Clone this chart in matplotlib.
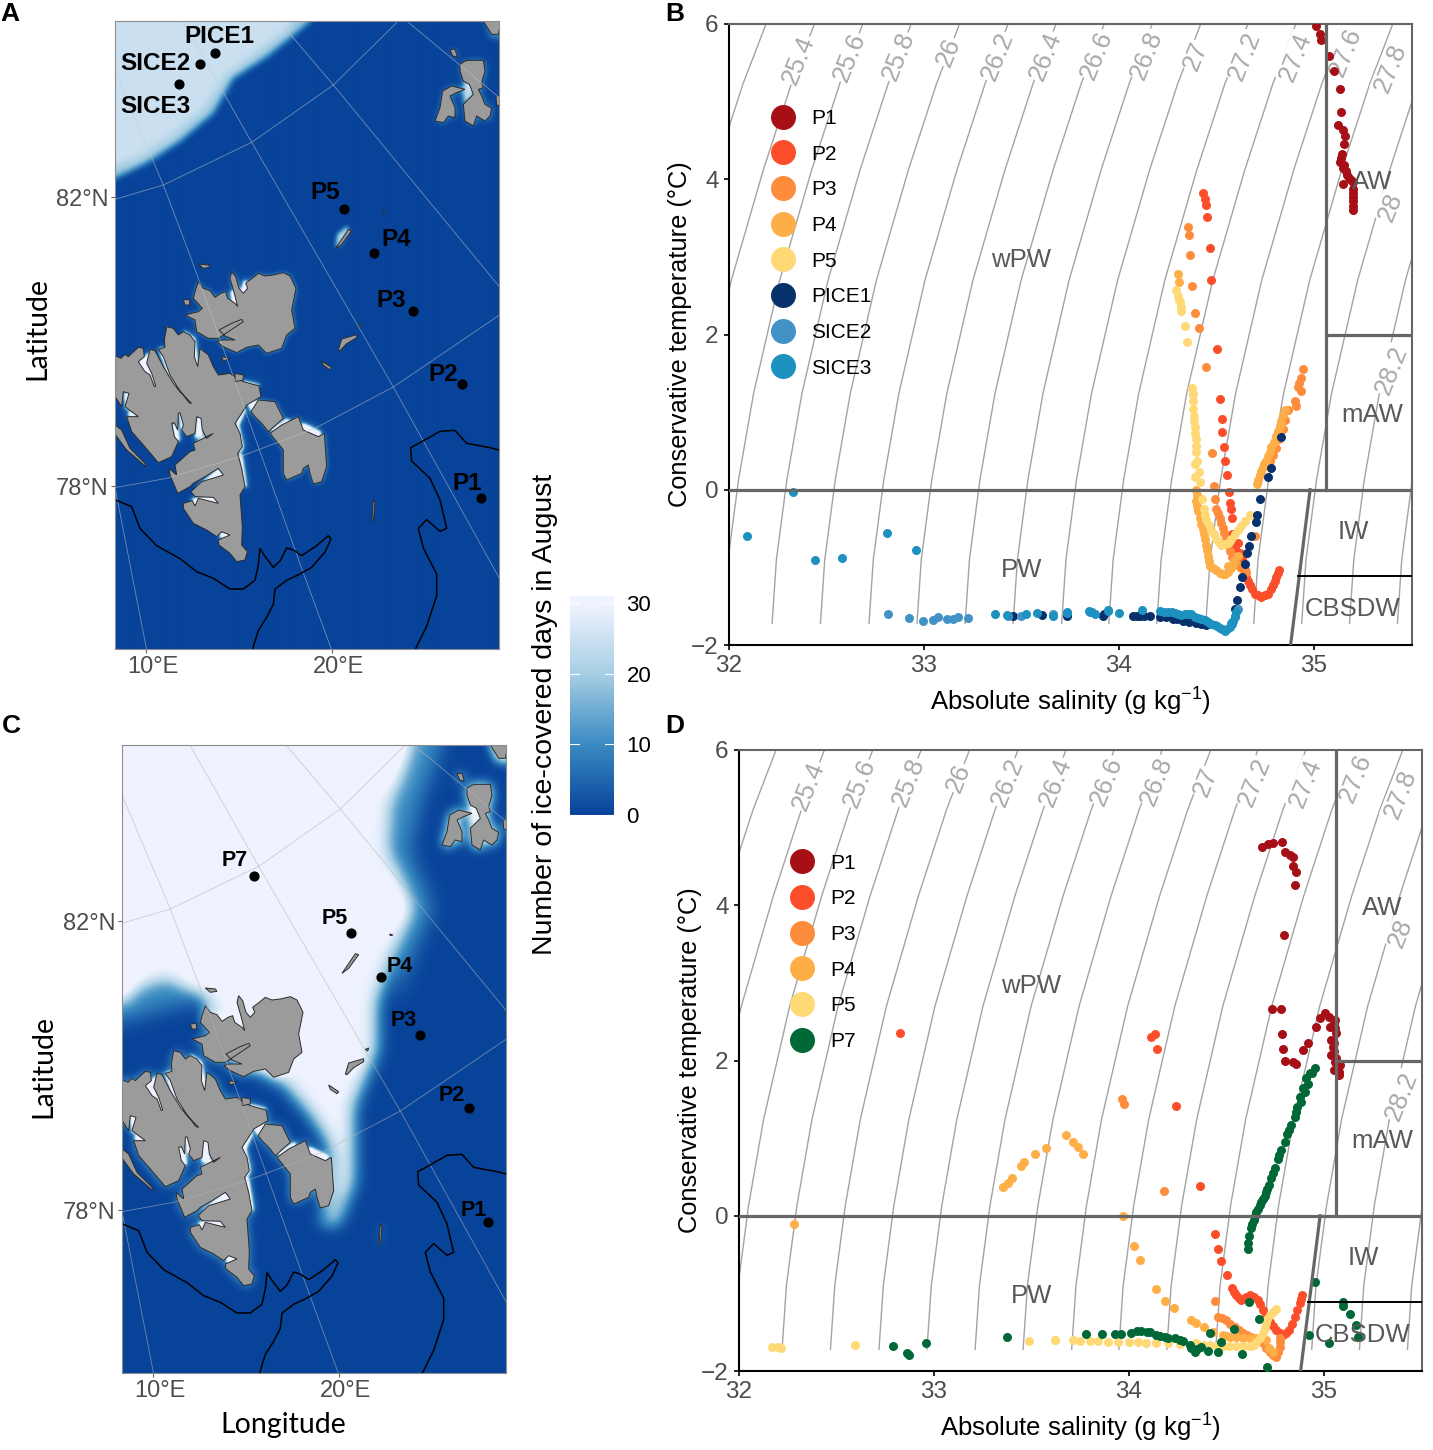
import numpy as np
from matplotlib import pyplot as plt
from matplotlib.colors import LinearSegmentedColormap, Normalize
from matplotlib.cm import ScalarMappable
from matplotlib.lines import Line2D
from matplotlib.path import Path
from matplotlib.transforms import ScaledTranslation

plt.rcParams['font.family'] = ['Liberation Sans', 'DejaVu Sans']
plt.rcParams['mathtext.fontset'] = 'custom'
plt.rcParams['mathtext.rm'] = 'Liberation Sans'
plt.rcParams['mathtext.default'] = 'regular'

W, H = 1433, 1450

# ---- T-S data panel B (absolute salinity, conservative temperature)
p1_s = [35.011, 35.032, 35.037, 35.076, 35.105, 35.131, 35.136, 35.124, 35.148, 35.161, 35.156, 35.144, 35.134, 35.156, 35.165, 35.182, 35.151, 35.199, 35.202, 35.202, 35.199, 35.199, 35.19, 35.2, 35.2, 35.17, 35.15, 35.14]
p1_t = [5.97, 5.865, 5.79, 5.59, 5.39, 5.16, 4.86, 4.70, 4.63, 4.56, 4.45, 4.32, 4.22, 4.18, 4.10, 4.02, 3.935, 3.96, 3.88, 3.77, 3.66, 3.61, 3.99, 3.82, 3.72, 4.06, 4.15, 4.27]
p2_s = [34.431, 34.44, 34.448, 34.451, 34.465, 34.47, 34.504, 34.52, 34.527, 34.53, 34.537, 34.542, 34.554, 34.564, 34.568, 34.574, 34.578, 34.581, 34.61, 34.622, 34.636, 34.653, 34.67, 34.695, 34.73, 34.764, 34.79, 34.806, 34.82, 34.595, 34.629, 34.645, 34.661, 34.682, 34.712, 34.747, 34.777, 34.798, 34.813]
p2_t = [3.827, 3.745, 3.664, 3.51, 3.12, 2.70, 1.816, 1.175, 0.914, 0.74, 0.55, 0.376, 0.185, -0.03, -0.168, -0.25, -0.358, -0.575, -0.684, -0.82, -0.956, -1.12, -1.23, -1.34, -1.38, -1.34, -1.23, -1.12, -1.03, -0.75, -0.89, -1.04, -1.175, -1.285, -1.36, -1.36, -1.285, -1.175, -1.075]
p3_s = [34.354, 34.359, 34.363, 34.376, 34.39, 34.41, 34.448, 34.477, 34.487, 34.494, 34.499, 34.516, 34.533, 34.55, 34.567, 34.593, 34.627, 34.653, 34.695, 34.943, 34.934, 34.917, 34.934, 34.9, 34.866, 34.84, 34.806, 34.772, 34.508, 34.525, 34.541, 34.558, 34.58, 34.61, 34.64, 34.925, 34.91, 34.853, 34.823, 34.789]
p3_t = [3.39, 3.28, 3.02, 2.62, 2.28, 2.08, 1.58, 0.47, 0.044, -0.113, -0.25, -0.358, -0.494, -0.63, -0.79, -0.93, -1.01, -1.065, -0.6, 1.555, 1.435, 1.327, 1.27, 1.137, 1.028, 0.783, 0.539, 0.376, -0.3, -0.43, -0.56, -0.71, -0.86, -0.97, -1.04, 1.38, 1.08, 0.9, 0.66, 0.45]
p4_s = [34.303, 34.306, 34.849, 34.832, 34.815, 34.793, 34.772, 34.755, 34.738, 34.721, 34.709, 34.397, 34.397, 34.405, 34.422, 34.436, 34.448, 34.457, 34.465, 34.499, 34.533, 34.559, 34.585, 34.61, 34.84, 34.824, 34.804, 34.782, 34.763, 34.746, 34.73, 34.715, 34.40, 34.401, 34.413, 34.429, 34.442, 34.452, 34.461, 34.482, 34.516, 34.546, 34.572, 34.597, 34.56]
p4_t = [2.78, 2.675, 1.028, 0.89, 0.756, 0.62, 0.484, 0.376, 0.294, 0.185, 0.077, -0.005, -0.14, -0.277, -0.44, -0.575, -0.71, -0.85, -0.983, -1.04, -1.09, -1.065, -0.956, -0.85, 0.96, 0.82, 0.69, 0.55, 0.43, 0.335, 0.24, 0.13, -0.07, -0.21, -0.36, -0.51, -0.64, -0.78, -0.92, -1.01, -1.07, -1.08, -1.01, -0.9, -0.98]
p5_s = [34.294, 34.303, 34.311, 34.32, 34.337, 34.349, 34.376, 34.38, 34.383, 34.388, 34.393, 34.397, 34.402, 34.388, 34.409, 34.388, 34.417, 34.428, 34.434, 34.448, 34.474, 34.499, 34.525, 34.559, 34.593, 34.627, 34.67, 34.443, 34.461, 34.487, 34.512, 34.542, 34.576, 34.61, 34.648, 34.378, 34.382, 34.385, 34.39, 34.395, 34.316, 34.306]
p5_t = [2.577, 2.495, 2.414, 2.305, 2.115, 1.908, 1.316, 1.137, 0.946, 0.81, 0.648, 0.484, 0.376, 0.338, 0.229, 0.158, 0.104, -0.113, -0.25, -0.385, -0.52, -0.63, -0.71, -0.684, -0.575, -0.466, -0.33, -0.32, -0.45, -0.575, -0.67, -0.7, -0.63, -0.52, -0.4, 1.23, 1.04, 0.88, 0.73, 0.56, 2.36, 2.45]
pice1_s = [34.832, 34.781, 34.764, 34.724, 34.707, 34.7, 34.678, 34.666, 34.656, 34.644, 34.632, 34.622, 34.607, 34.593, 34.448, 34.397, 34.329, 34.277, 34.209, 34.158, 34.107, 34.073, 33.919, 33.731, 33.454, 33.606, 33.922, 34.42, 34.36, 34.30, 34.24, 34.13, 34.09]
pice1_t = [0.685, 0.283, 0.158, -0.124, -0.33, -0.41, -0.6, -0.727, -0.82, -0.956, -1.12, -1.255, -1.42, -1.53, -1.745, -1.72, -1.69, -1.66, -1.635, -1.625, -1.625, -1.625, -1.625, -1.625, -1.62, -1.61, -1.6, -1.73, -1.7, -1.67, -1.645, -1.63, -1.625]
sice2_s = [32.813, 32.922, 32.997, 33.048, 33.074, 33.117, 33.15, 33.176, 33.227, 33.429, 33.495, 33.663, 33.864, 34.61, 34.593, 34.576]
sice2_t = [-1.6, -1.65, -1.685, -1.676, -1.64, -1.67, -1.66, -1.64, -1.655, -1.625, -1.625, -1.6, -1.577, -1.53, -1.64, -1.72]
sice3_s = [32.093, 32.326, 32.441, 32.582, 32.808, 32.958, 33.364, 33.424, 33.523, 33.577, 33.734, 33.847, 33.944, 33.663, 33.731, 33.851, 33.876, 33.945, 34.001, 34.12, 34.209, 34.252, 34.286, 34.32, 34.354, 34.388, 34.422, 34.457, 34.491, 34.516, 34.542, 34.568, 34.585, 34.602, 34.405, 34.44, 34.474, 34.504, 34.53, 34.555, 34.577, 34.594, 34.37, 34.337, 34.303, 34.27, 34.23]
sice3_t = [-0.59, -0.035, -0.91, -0.88, -0.56, -0.77, -1.6, -1.61, -1.6, -1.59, -1.57, -1.56, -1.55, -1.62, -1.59, -1.57, -1.6, -1.565, -1.585, -1.555, -1.565, -1.57, -1.59, -1.61, -1.6, -1.635, -1.66, -1.705, -1.745, -1.78, -1.815, -1.77, -1.69, -1.58, -1.65, -1.68, -1.725, -1.76, -1.8, -1.79, -1.73, -1.63, -1.6, -1.605, -1.6, -1.58, -1.57]

# ---- T-S data panel D
d1_s = [34.684, 34.713, 34.738, 34.786, 34.798, 34.824, 34.841, 34.841, 34.854, 34.853, 34.796, 34.731, 34.777, 34.786, 34.791, 34.798, 34.841, 34.858, 34.892, 34.918, 34.96, 34.982, 35.003, 35.025, 35.054, 35.029, 35.054, 35.037, 35.046, 35.037, 35.054, 35.08, 35.049, 35.076, 35.05, 35.06, 35.05, 35.05, 35.06, 35.07, 35.075]
d1_t = [4.755, 4.785, 4.807, 4.81, 4.68, 4.65, 4.62, 4.5, 4.433, 4.26, 3.613, 2.668, 2.668, 2.337, 2.152, 1.993, 1.976, 1.955, 2.13, 2.22, 2.427, 2.552, 2.608, 2.565, 2.522, 2.436, 2.414, 2.264, 2.178, 2.07, 1.985, 1.942, 1.877, 1.813, 2.48, 2.35, 2.22, 2.12, 2.03, 1.9, 1.85]
d2_s = [32.825, 34.115, 34.132, 34.146, 34.241, 34.366, 34.441, 34.458, 34.47, 34.502, 34.528, 34.55, 34.576, 34.619, 34.661, 34.687, 34.721, 34.755, 34.79, 34.823, 34.849, 34.875, 34.888, 34.54, 34.563, 34.598, 34.64, 34.674, 34.704, 34.738, 34.772, 34.806, 34.836, 34.862, 34.882]
d2_t = [2.354, 2.307, 2.341, 2.152, 1.418, 0.387, -0.23, -0.43, -0.584, -0.768, -0.927, -1.02, -1.086, -1.02, -1.086, -1.215, -1.366, -1.473, -1.537, -1.473, -1.301, -1.129, -1.02, -0.98, -1.06, -1.05, -1.05, -1.14, -1.29, -1.42, -1.51, -1.51, -1.39, -1.215, -1.07]
d3_s = [33.965, 33.973, 34.18, 34.443, 34.456, 34.499, 34.542, 34.584, 34.627, 34.687, 34.721, 34.755, 34.772, 34.772, 34.478, 34.52, 34.563, 34.605, 34.657, 34.704, 34.738, 34.765, 34.775]
d3_t = [1.508, 1.435, 0.318, -1.103, -1.301, -1.344, -1.43, -1.516, -1.559, -1.645, -1.752, -1.817, -1.688, -1.58, -1.32, -1.39, -1.47, -1.54, -1.6, -1.7, -1.79, -1.75, -1.63]
d4_s = [33.352, 33.377, 33.398, 33.446, 33.463, 33.519, 33.575, 33.676, 33.712, 33.737, 33.765, 33.97, 32.284, 34.028, 34.058, 34.14, 34.183, 34.229, 34.32, 34.345, 34.383, 34.431, 34.482, 34.55, 34.619, 34.687, 34.5, 34.52, 34.585, 34.65, 34.70, 34.72, 34.74]
d4_t = [0.365, 0.425, 0.49, 0.644, 0.687, 0.795, 0.872, 1.035, 0.954, 0.885, 0.795, -0.004, -0.103, -0.395, -0.567, -0.94, -1.1, -1.185, -1.344, -1.378, -1.43, -1.494, -1.537, -1.567, -1.58, -1.567, -1.55, -1.56, -1.575, -1.57, -1.6, -1.7, -1.76]
d5_s = [32.167, 32.202, 32.215, 32.594, 33.487, 33.619, 33.62, 33.714, 33.748, 33.799, 33.842, 33.893, 33.944, 33.999, 34.047, 34.089, 34.14, 34.2, 34.26, 34.345, 34.414, 34.482, 34.55, 34.619, 34.653, 34.687, 34.704, 34.721, 34.755, 34.38, 34.45, 34.515, 34.585, 34.64, 34.67, 34.695, 34.71, 34.738]
d5_t = [-1.697, -1.697, -1.7, -1.67, -1.61, -1.607, -1.606, -1.606, -1.61, -1.615, -1.615, -1.623, -1.623, -1.632, -1.632, -1.636, -1.636, -1.645, -1.658, -1.645, -1.666, -1.68, -1.68, -1.68, -1.623, -1.516, -1.387, -1.28, -1.207, -1.66, -1.675, -1.68, -1.68, -1.67, -1.58, -1.45, -1.33, -1.24]
d7_s = [32.79, 32.864, 32.873, 32.961, 33.373, 33.778, 33.859, 33.927, 33.961, 34.012, 34.064, 34.106, 34.14, 34.183, 34.234, 34.277, 34.311, 34.337, 34.371, 34.405, 34.456, 34.414, 34.473, 34.537, 34.581, 34.665, 34.615, 34.707, 34.921, 34.955, 35.025, 35.097, 35.097, 35.131, 35.165, 35.174,
        34.61, 34.61, 34.615, 34.627, 34.639, 34.653, 34.67, 34.687, 34.704, 34.718, 34.73, 34.747, 34.764, 34.781, 34.798, 34.812, 34.832, 34.849, 34.861, 34.875, 34.892, 34.909, 34.926, 34.952,
        34.32, 34.35, 34.26, 34.2, 34.16, 34.09, 34.04, 34.633, 34.645, 34.66, 34.678, 34.695, 34.71, 34.74, 34.77, 34.82, 34.855, 34.88, 34.9, 34.917, 34.94]
d7_t = [-1.68, -1.774, -1.8, -1.645, -1.568, -1.52, -1.525, -1.525, -1.525, -1.507, -1.486, -1.503, -1.537, -1.567, -1.58, -1.61, -1.666, -1.752, -1.688, -1.74, -1.752, -1.507, -1.632, -1.464, -1.782, -1.331, -1.112, -1.945, -1.537, -0.854, -1.64, -1.108, -1.163, -1.271, -1.408, -1.559,
        -0.43, -0.347, -0.261, -0.154, -0.055, 0.052, 0.138, 0.215, 0.31, 0.396, 0.49, 0.61, 0.731, 0.847, 0.954, 1.049, 1.169, 1.276, 1.405, 1.534, 1.641, 1.77, 1.84, 1.9,
        -1.7, -1.72, -1.6, -1.57, -1.545, -1.495, -1.49, -0.1, 0.0, 0.09, 0.18, 0.26, 0.35, 0.55, 0.78, 1.1, 1.34, 1.47, 1.59, 1.7, 1.84]

# ---- isopycnals, one shape, moved sideways per density
iso_names = ['25.2', '25.4', '25.6', '25.8', '26', '26.2', '26.4', '26.6', '26.8', '27', '27.2', '27.4', '27.6', '27.8', '28', '28.2', '28.4']
iso_base_sal = [31.477, 31.725, 31.973, 32.221, 32.469, 32.718, 32.964, 33.211, 33.457, 33.706, 33.948, 34.194, 34.445, 34.691, 34.937, 35.182, 35.428]
iso_temp = [6.4, 6.0, 5.23, 4.12, 2.70, 1.24, 0.13, -0.9, -1.72]
iso_shape = [0.75, 0.713, 0.595, 0.451, 0.287, 0.153, 0.076, 0.022, 0.0]
label_names = ['25.4', '25.6', '25.8', '26', '26.2', '26.4', '26.6', '26.8', '27', '27.2', '27.4', '27.6', '27.8', '28', '28.2']
label_sal = [32.355, 32.617, 32.868, 33.124, 33.375, 33.626, 33.887, 34.143, 34.394, 34.645, 34.906, 35.162, 35.392, 35.392, 35.397]
label_temp = [5.54, 5.57, 5.58, 5.64, 5.58, 5.58, 5.6, 5.6, 5.58, 5.58, 5.57, 5.64, 5.43, 3.64, 1.54]

# ---- map, traced in units of a third of a pixel from the panel's corner
SHELF_Y = 717
spitsbergen = [(-9, 283), (18, 295), (30, 283), (40, 290), (70, 262), (85, 265), (88, 290), (70, 305), (90, 335), (105, 345), (118, 380), (122, 378), (110, 340), (95, 310), (105, 268), (120, 272), (145, 320), (175, 370), (195, 395), (230, 430), (222, 428), (190, 385), (165, 345), (145, 290), (130, 268), (150, 262), (148, 240), (155, 200), (175, 205), (190, 225), (205, 215), (225, 225), (240, 245), (238, 290), (248, 320), (255, 265), (280, 285), (295, 320), (310, 345), (345, 340), (358, 350), (385, 365), (432, 378), (438, 410), (395, 435), (380, 460), (360, 490), (375, 520), (382, 560), (368, 580), (380, 625), (390, 680), (375, 705), (382, 800), (380, 855), (397, 875), (390, 900), (365, 905), (345, 880), (312, 855), (310, 840), (345, 825), (320, 815), (305, 830), (275, 810), (235, 790), (205, 745), (205, 730), (232, 722), (240, 738), (250, 715), (310, 730), (295, 712), (240, 710), (228, 695), (260, 665), (325, 645), (310, 625), (270, 650), (235, 670), (225, 680), (188, 700), (165, 645), (162, 625), (185, 645), (180, 615), (225, 575), (240, 570), (235, 550), (295, 520), (275, 535), (262, 510), (258, 475), (245, 470), (240, 520), (215, 530), (200, 510), (205, 495), (195, 458), (190, 460), (188, 510), (178, 488), (170, 490), (178, 530), (190, 545), (170, 590), (130, 608), (85, 555), (50, 515), (35, 470), (70, 470), (50, 455), (30, 440), (42, 400), (25, 395), (20, 440), (-9, 395)]
nordaustlandet = [(240, 95), (250, 65), (265, 85), (285, 92), (300, 112), (318, 100), (332, 95), (338, 115), (360, 130), (368, 140), (358, 100), (345, 55), (350, 35), (362, 50), (372, 85), (385, 100), (398, 85), (392, 70), (418, 50), (430, 40), (450, 48), (475, 45), (505, 38), (525, 48), (543, 85), (530, 150), (540, 205), (515, 225), (500, 265), (455, 280), (430, 255), (395, 262), (365, 278), (325, 260), (305, 245), (322, 240), (360, 240), (330, 228), (312, 210), (350, 190), (380, 178), (385, 185), (355, 205), (310, 235), (280, 235), (245, 215), (240, 180), (210, 165), (250, 155), (262, 145), (235, 115)]
barentsoya = [(408, 455), (430, 420), (480, 425), (505, 475), (460, 515), (440, 490), (420, 470)]
edgeoya = [(465, 520), (500, 495), (550, 470), (565, 510), (610, 530), (628, 520), (635, 620), (620, 665), (595, 672), (585, 640), (580, 615), (565, 625), (560, 640), (515, 660), (505, 640), (505, 570)]
forlandet = [(-9, 488), (20, 510), (45, 565), (90, 610), (92, 620), (70, 600), (35, 570), (-9, 510)]
small_shelf = [[(205, 120), (222, 118), (225, 135), (210, 135)], [(250, 12), (280, 15), (285, 22), (265, 25)], [(320, 290), (345, 295), (325, 303)], [(360, 340), (385, 345), (385, 360), (360, 365)]]
islands = [[(670, 987), (680, 954), (725, 941), (725, 950), (695, 968), (675, 989)],
           [(620, 1020), (650, 1040), (645, 1046), (625, 1033)],
           [(730, 913), (740, 909), (737, 918)],
           [(775, 1502), (780, 1444), (775, 1437), (771, 1496)],
           [(660, 685), (700, 626), (710, 629), (680, 670)],
           [(803, 567), (813, 570), (805, 572)],
           [(960, 300), (975, 260), (983, 210), (1010, 195), (1050, 205), (1025, 215), (1005, 225), (1020, 260), (1020, 290), (1000, 285), (985, 305)],
           [(1035, 130), (1050, 120), (1065, 118), (1105, 118), (1110, 150), (1100, 185), (1105, 200), (1090, 205), (1100, 225), (1110, 250), (1130, 262), (1125, 285), (1110, 300), (1085, 285), (1075, 315), (1050, 300), (1045, 250), (1075, 220), (1063, 190), (1045, 180), (1035, 150)],
           [(1005, 85), (1020, 85), (1027, 108), (1013, 105)],
           [(1143, 225), (1160, 225), (1160, 255), (1145, 252)],
           [(1105, 0), (1130, 40), (1150, 40), (1160, -9), (1105, -9)]]

contour_sw_x = [2, 50, 75, 125, 195, 245, 295, 345, 385, 420, 430, 435, 450, 475, 495, 515, 535, 560, 605, 640, 648, 630, 590, 555, 515, 480, 475, 455, 430, 412]
contour_sw_y = [1437, 1457, 1522, 1574, 1613, 1652, 1672, 1704, 1704, 1678, 1632, 1583, 1606, 1639, 1620, 1581, 1587, 1604, 1574, 1544, 1554, 1593, 1639, 1659, 1678, 1704, 1750, 1789, 1828, 1887]
contour_se_x = [1152, 1125, 1055, 1020, 975, 915, 887, 890, 945, 975, 995, 975, 935, 910, 925, 965, 965, 935, 900]
contour_se_y = [1287, 1280, 1267, 1228, 1231, 1265, 1280, 1320, 1372, 1437, 1522, 1531, 1496, 1522, 1581, 1659, 1724, 1816, 1887]

meridians = [[(0, 1400), (95, 1887)],
             [(0, 150), (145, 492), (230, 717), (560, 1642), (650, 1887)],
             [(204, 0), (410, 364), (835, 1098), (1152, 1670)],
             [(492, 0), (655, 192), (1152, 796)],
             [(875, 0), (1152, 229)]]
parallels = [[(0, 535), (145, 492), (410, 364), (655, 192), (850, 0)],
             [(0, 1400), (155, 1372), (375, 1307), (600, 1222), (835, 1098), (1152, 883)]]

ice_aug_a = [(-60, -60), (620, -60), (585, 0), (535, 42), (455, 107), (355, 172), (295, 276), (195, 361), (95, 426), (0, 472), (-60, 500)]
ice_inner_a = [(-60, -60), (570, -60), (510, 30), (430, 90), (330, 165), (270, 260), (170, 345), (70, 410), (-60, 450)]
ice_aug_c = [(-60, -60), (900, -60), (864, 0), (804, 177), (799, 319), (864, 489), (824, 588), (764, 773), (764, 915), (694, 1085), (694, 1312), (644, 1439), (594, 1432), (634, 1368), (634, 1241), (610, 1175), (560, 1100), (484, 1014), (420, 985), (300, 900), (244, 744), (134, 700), (54, 720), (1, 770), (-60, 790)]
ice_outer_c = [(800, -60), (980, -60), (890, 177), (860, 319), (930, 489), (880, 600), (820, 773)]
ice_nw_fade = [(-60, 700), (250, 700), (250, 760), (60, 810), (-60, 850)]
fj_fast = [[(130, 265), (150, 262), (170, 345), (235, 435), (215, 430), (160, 350)],
           [(88, 290), (105, 275), (122, 385), (105, 385), (85, 340), (50, 335), (45, 320), (65, 305)],
           [(205, 210), (240, 235), (250, 320), (238, 320)],
           [(345, 95), (375, 85), (372, 145), (355, 135)],
           [(385, 60), (410, 75), (395, 100), (378, 100)],
           [(340, 205), (385, 175), (388, 190), (360, 225)],
           [(170, 490), (185, 490), (195, 540), (180, 545)],
           [(190, 455), (205, 455), (210, 510), (198, 510)],
           [(245, 470), (262, 472), (262, 530), (240, 535)],
           [(250, 540), (295, 515), (295, 525), (240, 560)],
           [(245, 680), (310, 625), (330, 650), (250, 685)],
           [(230, 715), (300, 708), (310, 735), (235, 738)],
           [(315, 815), (350, 820), (345, 835), (315, 835)],
           [(362, 485), (382, 445), (392, 450), (372, 495), (385, 560), (375, 580), (368, 570)],
           [(368, 580), (380, 580), (395, 680), (385, 680)],
           [(395, 430), (425, 420), (440, 430), (410, 455)],
           [(465, 512), (515, 475), (525, 482), (475, 515)],
           [(555, 495), (565, 490), (615, 515), (615, 530), (575, 525)],
           [(380, 360), (435, 373), (432, 378), (385, 370)],
           [(40, 450), (72, 465), (70, 472), (40, 470)],
           [(28, 395), (42, 395), (42, 450), (30, 445)]]
kvitoya_ice = [(660, 680), (665, 640), (695, 615), (700, 630), (680, 665)]
fjl_sound = [(1050, 170), (1075, 190), (1070, 225), (1045, 250), (1040, 205)]
ne_corner_ice = [(1100, -20), (1170, -20), (1170, 60), (1120, 50)]

st_names = ['P1', 'P2', 'P3', 'P4', 'P5', 'PICE1', 'SICE2', 'SICE3']
st_x = [1098, 1041, 894, 777, 687, 300, 255, 192]
st_y = [1431, 1089, 870, 696, 564, 96, 129, 189]
st_lx = [1056, 984, 828, 843, 630, 312, 120, 120]
st_ly = [1388, 1061, 839, 656, 515, 47, 128, 257]
c_names = ['P1', 'P2', 'P3', 'P4', 'P5', 'P7']
c_x = [1098, 1041, 894, 777, 687, 396]
c_y = [1431, 1089, 870, 696, 564, 393]
c_lx = [1056, 990, 846, 834, 639, 339]
c_ly = [1397, 1052, 827, 665, 521, 347]

ice_ticks = [0, 10, 20, 30]
ice_colors = ['#08439a', '#3a8bc2', '#a6cee3', '#eff3ff']
col = {'P1': '#a50f15', 'P2': '#fc4e2a', 'P3': '#fd8d3c', 'P4': '#feae47', 'P5': '#fed976',
       'P7': '#006837', 'PICE1': '#08306b', 'SICE2': '#4292c6', 'SICE3': '#1d91c0'}

MW, MH = 1152, 1884
CELL = 2
gx, gy = np.meshgrid(np.arange(CELL / 2, MW, CELL), np.arange(CELL / 2, MH, CELL))
grid_pts = np.column_stack([gx.ravel(), gy.ravel()])


def shelf(poly):
    return [(x, y + SHELF_Y) for x, y in poly]


def mask(polys):
    m = np.zeros(gx.shape)
    for poly in polys:
        m[Path(poly).contains_points(grid_pts).reshape(gx.shape)] = 1
    return m


def blur(m, sigma):
    sigma = sigma / CELL
    r = int(3 * sigma) + 1
    k = np.exp(-0.5 * (np.arange(-r, r + 1) / sigma) ** 2)
    k = k / k.sum()
    out = np.pad(m, r, mode='edge')
    out = np.apply_along_axis(lambda v: np.convolve(v, k, mode='same'), 0, out)
    out = np.apply_along_axis(lambda v: np.convolve(v, k, mode='same'), 1, out)
    return out[r:-r, r:-r]


fj_mask = mask([shelf(p) for p in fj_fast])
fj_fine = blur(fj_mask, 4)
fj_wide = blur(fj_mask, 12)
glow_mask = blur(mask([shelf(nordaustlandet), shelf(edgeoya), shelf(barentsoya)]), 7)
all_land = mask([shelf(spitsbergen), shelf(nordaustlandet), shelf(edgeoya), shelf(barentsoya)] + islands)
fjl_land = mask(islands[6:9])

field_a = 19 * blur(mask([ice_aug_a]), 9) + 6 * blur(mask([ice_inner_a]), 12)
field_a = field_a + 28 * fj_fine + 14 * fj_wide + 13 * glow_mask
field_a = field_a + 22 * blur(mask([kvitoya_ice]), 6) + 11 * blur(fjl_land, 9) + 24 * blur(mask([fjl_sound]), 8) + 8 * blur(mask([ne_corner_ice]), 8)

field_c = 30 * blur(mask([ice_aug_c]), 24) + 11 * blur(mask([ice_outer_c]), 30) + 10 * blur(mask([ice_nw_fade]), 30)
field_c = field_c + 28 * fj_fine + 14 * fj_wide + 14 * blur(all_land, 14)
field_c = field_c + 20 * blur(fjl_land, 18) + 26 * blur(mask([fjl_sound]), 12) + 20 * blur(mask([ne_corner_ice]), 14)

ice_cmap = LinearSegmentedColormap.from_list('ice', ice_colors)
ice_norm = Normalize(0, 30)
land_polys = [shelf(spitsbergen), shelf(nordaustlandet), shelf(barentsoya), shelf(edgeoya), shelf(forlandet)] + [shelf(p) for p in small_shelf] + islands


def px_axes(fig, left, top, right, bottom):
    return fig.add_axes([left / W, 1 - bottom / H, (right - left) / W, (bottom - top) / H])


def draw_map(ax, field, names, xs, ys, lx, ly, lab_size, grat_color, grat_alpha):
    ax.imshow(field, extent=(0, MW, MH, 0), cmap=ice_cmap, norm=ice_norm, aspect='auto', interpolation='bilinear')
    for line in meridians + parallels:
        ax.plot([p[0] for p in line], [p[1] for p in line], color=grat_color, lw=0.6, alpha=grat_alpha)
    for poly in land_polys:
        ax.fill([p[0] for p in poly], [p[1] for p in poly], facecolor='#9b9b9b', edgecolor='#2b2b2b', lw=0.7)
    ax.plot(contour_sw_x, contour_sw_y, color='black', lw=1.1)
    ax.plot(contour_se_x, contour_se_y, color='black', lw=1.1)
    ax.scatter(xs, ys, s=40, color='black', zorder=5)
    for n, x, y in zip(names, lx, ly):
        ax.text(x, y, n, fontsize=lab_size, fontweight='bold', ha='center', va='center', zorder=6)
    ax.set_xlim(0, MW)
    ax.set_ylim(MH, 0)
    ax.set_xticks([93, 651])
    ax.set_xticklabels(['10°E', '20°E'])
    ax.set_yticks([528, 1396])
    ax.set_yticklabels(['82°N', '78°N'])
    ax.tick_params(labelsize=17, labelcolor='#4d4d4d', color='#666666', length=3, width=0.8, pad=2)
    # the lon labels sit a little right of their ticks
    shift = ScaledTranslation(5 / 72, 0, ax.figure.dpi_scale_trans)
    for lab in ax.get_xticklabels():
        lab.set_transform(lab.get_transform() + shift)
    for sp in ax.spines.values():
        sp.set_color('#8c8c8c')
        sp.set_linewidth(0.8)


def draw_ts(ax, groups, legend_names, legend_anchor):
    for name, base in zip(iso_names, iso_base_sal):
        ax.plot(base + np.array(iso_shape), iso_temp, color='#a3a3a3', lw=1.0, zorder=1)
    for n, s, t in zip(label_names, label_sal, label_temp):
        ax.text(s, t, n, rotation=68, fontsize=18.5, color='#a9a9a9', ha='center', va='center', rotation_mode='anchor',
                bbox=dict(facecolor='white', edgecolor='none', pad=0.5), zorder=2)
    for name, s, t in groups:
        ax.scatter(s, t, s=42, color=col[name], linewidths=0, zorder=3)
    ax.plot([32, 35.5], [0, 0], color='#666666', lw=2.3, zorder=4)
    ax.plot([35.06, 35.06], [0, 6], color='#666666', lw=2.3, zorder=4)
    ax.plot([35.06, 35.5], [2, 2], color='#666666', lw=2.3, zorder=4)
    ax.plot([34.98, 34.88], [0, -2], color='#666666', lw=2.3, zorder=4)
    ax.plot([34.92, 35.5], [-1.11, -1.11], color='black', lw=1.4, zorder=4)
    for txt, s, t in zip(['wPW', 'PW', 'AW', 'mAW', 'IW', 'CBSDW'], [33.5, 33.5, 35.3, 35.3, 35.2, 35.2], [2.96, -1.04, 3.96, 0.96, -0.54, -1.54]):
        ax.text(s, t, txt, fontsize=18.5, color='#595959', ha='center', va='center', zorder=5)
    ax.set_xlim(32, 35.5)
    ax.set_ylim(-2, 6)
    ax.set_xticks([32, 33, 34, 35])
    ax.set_yticks([-2, 0, 2, 4, 6])
    ax.tick_params(labelsize=17.5, labelcolor='#4d4d4d', length=3.5, width=1.2, pad=4)
    ax.set_xlabel('Absolute salinity (g kg$^{-1}$)', fontsize=18.5)
    ax.set_ylabel('Conservative temperature (°C)', fontsize=18.3)
    ax.xaxis.set_label_coords(0.5, -0.066)
    ax.yaxis.set_label_coords(-0.0545, 0.5)
    for side in ['left', 'bottom']:
        ax.spines[side].set_linewidth(1.5)
    for side in ['top', 'right']:
        ax.spines[side].set_color('#666666')
        ax.spines[side].set_linewidth(1.5)
    handles = [Line2D([], [], ls='', marker='o', ms=18, mew=0, color=col[n], label=n) for n in legend_names]
    ax.legend(handles=handles, loc='upper left', bbox_to_anchor=legend_anchor, frameon=False, fontsize=15,
              borderpad=0, borderaxespad=0, labelspacing=0.8, handletextpad=0.42, handlelength=1.87)


fig = plt.figure(figsize=(W / 100, H / 100), dpi=100)

ax_a = px_axes(fig, 115, 21, 499, 649)
draw_map(ax_a, field_a, st_names, st_x, st_y, st_lx, st_ly, 17.5, '#c8c8c8', 0.55)

ax_c = px_axes(fig, 122, 745, 506, 1373)
draw_map(ax_c, field_c, c_names, c_x, c_y, c_lx, c_ly, 15.5, '#b4b4b4', 0.6)

fig.text(37 / W, 1 - 328 / H, 'Latitude', rotation=90, fontsize=20.5, family='Lato', ha='center', va='center')
fig.text(43 / W, 1 - 1066 / H, 'Latitude', rotation=90, fontsize=20.5, family='Lato', ha='center', va='center')
fig.text(283 / W, 1 - 1425 / H, 'Longitude', fontsize=20.5, family='Lato', ha='center', va='center')

ax_b = px_axes(fig, 729, 24, 1411.5, 645)
draw_ts(ax_b, [('P1', p1_s, p1_t), ('P2', p2_s, p2_t), ('P3', p3_s, p3_t), ('P4', p4_s, p4_t), ('P5', p5_s, p5_t),
               ('PICE1', pice1_s, pice1_t), ('SICE2', sice2_s, sice2_t), ('SICE3', sice3_s, sice3_t)],
        st_names, (0.05, 0.863))

ax_d = px_axes(fig, 739, 750, 1421.5, 1371)
draw_ts(ax_d, [('P1', d1_s, d1_t), ('P2', d2_s, d2_t), ('P3', d3_s, d3_t), ('P4', d4_s, d4_t), ('P5', d5_s, d5_t), ('P7', d7_s, d7_t)],
        c_names, (0.0634, 0.833))

# colour bar in the middle of the figure
cax = px_axes(fig, 570, 596, 614, 815)
bar_cmap = LinearSegmentedColormap.from_list('bar', [(0, ice_colors[0]), (10 / 31, ice_colors[1]), (20 / 31, ice_colors[2]), (30 / 31, ice_colors[3]), (1, ice_colors[3])], N=64)
cb = fig.colorbar(ScalarMappable(norm=Normalize(0, 31), cmap=bar_cmap), cax=cax)
cb.outline.set_visible(False)
cb.set_ticks(ice_ticks)
cax.tick_params(labelsize=16, length=0, pad=9)
for v in ice_ticks:
    cax.plot([0, 0.2], [v, v], color='white', lw=0.8, transform=cax.get_yaxis_transform())
    cax.plot([0.8, 1], [v, v], color='white', lw=0.8, transform=cax.get_yaxis_transform())
fig.text(545 / W, 1 - 714 / H, 'Number of ice-covered days in August', rotation=90, fontsize=20.5, ha='center', va='center')

for letter, x, y in zip('ABCD', [10, 675, 11, 675], [14, 14, 726, 726]):
    fig.text(x / W, 1 - y / H, letter, fontsize=19, fontweight='bold', ha='center', va='center')

fig.savefig('out.png', dpi=100)
